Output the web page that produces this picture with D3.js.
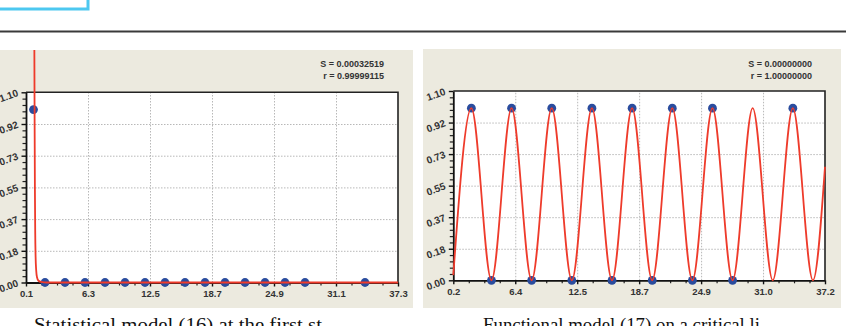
<!DOCTYPE html>
<html><head><meta charset="utf-8">
<script src="https://cdn.jsdelivr.net/npm/d3@7"></script>
<style>
html,body{margin:0;padding:0;background:#fff;overflow:hidden;}
svg{display:block;}
</style></head>
<body>
<svg id="chart" width="853" height="326"></svg>
<script>
// ---------- data ----------
const yTickLabels = ["0.00","0.18","0.37","0.55","0.73","0.92","1.10"];
const leftXTickLabels = ["0.1","6.3","12.5","18.7","24.9","31.1","37.3"];
const rightXTickLabels = ["0.2","6.4","12.5","18.7","24.9","31.0","37.2"];

// left: observed points
const leftPointX = [0.85, 2, 4, 6, 8, 10, 12, 14, 16, 18, 20, 22, 24, 26, 28, 34];
const leftPointY = [1.0, 0, 0, 0, 0, 0, 0, 0, 0, 0, 0, 0, 0, 0, 0, 0];
// left: fitted model curve
const leftCurveX = [0.93, 0.96, 0.99, 1.02, 1.06, 1.12, 1.2, 1.35, 1.6, 2.2, 37.3];
const leftCurveY = [1.45, 0.95, 0.55, 0.3, 0.15, 0.07, 0.03, 0.01, 0.003, 0.0, 0.0];
const leftStats = ["S = 0.00032519", "r = 0.99999115"];

// right: observed points
const rightPointX = [2, 4, 6, 8, 10, 12, 14, 16, 18, 20, 22, 24, 26, 28, 34];
const rightPointY = [1, 0, 1, 0, 1, 0, 1, 0, 1, 0, 1, 0, 1, 0, 1];
// right: fitted model curve extremes
const rightCurveX = [0.2, 2, 4, 6, 8, 10, 12, 14, 16, 18, 20, 22, 24, 26, 28, 30, 32, 34, 36, 37.2];
const rightCurveY = [0.03, 1, 0, 1, 0, 1, 0, 1, 0, 1, 0, 1, 0, 1, 0, 1, 0, 1, 0, 0.66];
const rightStats = ["S = 0.00000000", "r = 1.00000000"];

const captions = ["Statistical model (16) at the first st", "Functional model (17) on a critical li"];

// ---------- drawing ----------
const svg = d3.select("#chart");
const BEIGE = "#ECEADF", RED = "#EE3B2B", BLUE = "#2A4C9E", TXT = "#333";

// header decorations
svg.append("rect").attr("x", -4).attr("y", -6).attr("width", 92).attr("height", 15)
  .attr("fill", "#fff").attr("stroke", "#4DC8F0").attr("stroke-width", 3);
svg.append("line").attr("x1", 0).attr("x2", 846).attr("y1", 31.5).attr("y2", 31.5)
  .attr("stroke", "#3a3a3a").attr("stroke-width", 2);

function panel(cfg, id) {
  const g = svg.append("g");
  g.append("rect").attr("x", cfg.px).attr("y", cfg.py).attr("width", cfg.pw).attr("height", cfg.ph).attr("fill", BEIGE);
  const clipId = "clip" + id;
  svg.append("clipPath").attr("id", clipId).append("rect")
    .attr("x", cfg.px).attr("y", cfg.py).attr("width", cfg.pw).attr("height", cfg.ph);

  const x = d3.scaleLinear().domain(cfg.xDomain).range([cfg.x0, cfg.x1]);
  const y = d3.scaleLinear().domain([0, 1.1]).range([cfg.y1, cfg.y0]);
  const w = cfg.x1 - cfg.x0, h = cfg.y1 - cfg.y0;

  g.append("rect").attr("x", cfg.x0).attr("y", cfg.y0).attr("width", w).attr("height", h).attr("fill", "#fff");

  const xMajor = d3.range(7).map(i => cfg.xDomain[0] + i * (cfg.xDomain[1] - cfg.xDomain[0]) / 6);
  const yMajor = d3.range(7).map(i => i * 1.1 / 6);
  const xMinor = [], yMinor = [];
  for (let i = 0; i < 6; i++) {
    for (let k = 1; k < 4; k++) xMinor.push(xMajor[i] + k * (xMajor[i+1] - xMajor[i]) / 4);
    for (let k = 1; k < 5; k++) yMinor.push(yMajor[i] + k * (yMajor[i+1] - yMajor[i]) / 5);
  }

  // grid
  const gx = g.append("g").attr("transform", `translate(0,${cfg.y1})`)
    .call(d3.axisBottom(x).tickValues(xMajor.slice(1, 6)).tickSize(-h).tickFormat(""));
  const gy = g.append("g").attr("transform", `translate(${cfg.x0},0)`)
    .call(d3.axisLeft(y).tickValues(yMajor.slice(1, 6)).tickSize(-w).tickFormat(""));
  [gx, gy].forEach(a => {
    a.select(".domain").remove();
    a.selectAll("line").attr("stroke", "#b8b8b8").attr("stroke-dasharray", "1.5,1.5").attr("stroke-width", 1);
  });

  // frame top/right
  g.append("path").attr("d", `M${cfg.x0},${cfg.y0}H${cfg.x1}V${cfg.y1}`)
    .attr("fill", "none").attr("stroke", "#222").attr("stroke-width", 1.6);

  // minor ticks
  const mx = g.append("g").attr("transform", `translate(0,${cfg.y1})`)
    .call(d3.axisBottom(x).tickValues(xMinor).tickSize(3).tickFormat(""));
  const my = g.append("g").attr("transform", `translate(${cfg.x0},0)`)
    .call(d3.axisLeft(y).tickValues(yMinor).tickSize(3.5).tickFormat(""));
  [mx, my].forEach(a => { a.select(".domain").remove(); a.selectAll("line").attr("stroke", "#222").attr("stroke-width", 1.2); });

  // major axes
  const ax = g.append("g").attr("transform", `translate(0,${cfg.y1})`)
    .call(d3.axisBottom(x).tickValues(xMajor).tickSize(4).tickSizeOuter(0).tickPadding(5)
      .tickFormat((d, i) => cfg.xLabels[i]));
  const ay = g.append("g").attr("transform", `translate(${cfg.x0},0)`)
    .call(d3.axisLeft(y).tickValues(yMajor).tickSize(4.5).tickSizeOuter(0).tickPadding(3.5)
      .tickFormat((d, i) => yTickLabels[i]));
  [ax, ay].forEach(a => {
    a.select(".domain").attr("stroke", "#111").attr("stroke-width", 1.8);
    a.selectAll("line").attr("stroke", "#111").attr("stroke-width", 1.4);
    a.selectAll("text").attr("fill", TXT).attr("font-family", "Liberation Sans, Arial, sans-serif")
      .attr("font-weight", "bold").attr("font-size", 9.5);
  });
  ax.selectAll("text").attr("dy", "0.55em");
  ay.selectAll("text").attr("font-size", 10).each(function () {
    const t = d3.select(this);
    const xx = +t.attr("x");
    t.attr("transform", `rotate(-20,${xx},0)`).attr("dy", "0.3em");
  });

  // points
  const pts = cfg.ptX.map((v, i) => [v, cfg.ptY[i]]);
  g.append("g").selectAll("circle").data(pts).join("circle")
    .attr("cx", d => x(d[0])).attr("cy", d => y(d[1])).attr("r", 4.4).attr("fill", BLUE);

  // curve
  const cv = cfg.cX.map((v, i) => [v, cfg.cY[i]]);
  g.append("path").datum(cv).attr("clip-path", `url(#${clipId})`)
    .attr("fill", "none").attr("stroke", RED).attr("stroke-width", 1.8)
    .attr("d", d3.line().x(d => x(d[0])).y(d => y(d[1])).curve(d3.curveMonotoneX));

  // stats
  g.append("g").selectAll("text").data(cfg.stats).join("text")
    .attr("x", cfg.statX).attr("y", (d, i) => cfg.statY + i * 12)
    .attr("text-anchor", "end").attr("fill", TXT)
    .attr("font-family", "Liberation Sans, Arial, sans-serif").attr("font-weight", "bold").attr("font-size", 9)
    .text(d => d);

  // caption
  svg.append("text").attr("x", cfg.capX).attr("y", 331)
    .attr("font-family", "Liberation Serif, Times New Roman, serif").attr("font-size", 19.5).attr("fill", "#111")
    .attr("textLength", cfg.capLen).attr("lengthAdjust", "spacingAndGlyphs")
    .text(cfg.caption);
}

panel({px: 0, py: 50, pw: 413, ph: 258, x0: 26, x1: 398, y0: 92.3, y1: 282.5,
  xDomain: [0.1, 37.3], xLabels: leftXTickLabels, ptX: leftPointX, ptY: leftPointY,
  cX: leftCurveX, cY: leftCurveY, stats: leftStats, statX: 384, statY: 67,
  caption: captions[0], capX: 34, capLen: 288}, "L");
panel({px: 423, py: 49, pw: 418, ph: 259, x0: 453.3, x1: 825, y0: 91, y1: 280.3,
  xDomain: [0.2, 37.2], xLabels: rightXTickLabels, ptX: rightPointX, ptY: rightPointY,
  cX: rightCurveX, cY: rightCurveY, stats: rightStats, statX: 812, statY: 66.5,
  caption: captions[1], capX: 483, capLen: 277}, "R");
</script>
</body></html>
